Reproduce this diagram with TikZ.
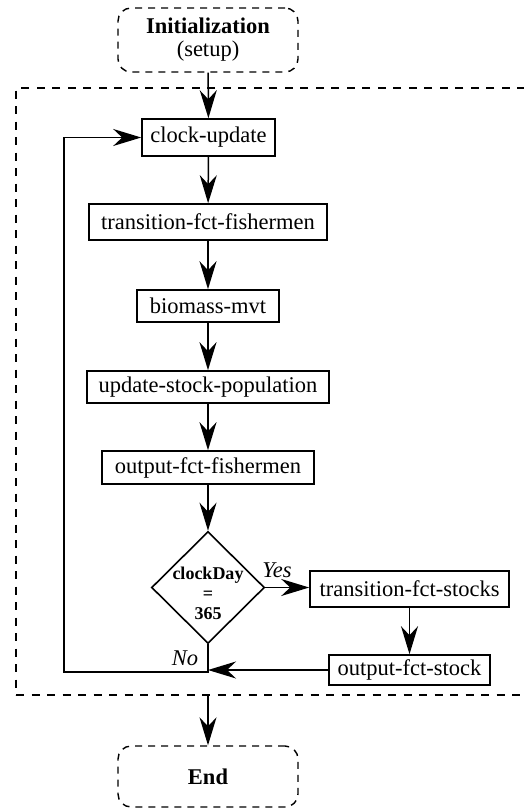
\documentclass[tikz,border=0pt]{standalone}
\usepackage{fontspec}
\setmainfont{Liberation Serif}
\usetikzlibrary{shapes.geometric,arrows.meta}
\begin{document}
\begin{tikzpicture}[x=1pt,y=-1pt,
  txt/.style={font=\fontsize{22.5}{24}\selectfont},
  proc/.style={draw, line width=1.6pt, inner sep=0pt, txt},
  term/.style={draw, dashed, dash pattern=on 7pt off 6pt, line width=1.4pt, rounded corners=13pt, inner sep=0pt, align=center, txt},
  arr/.style={line width=1.5pt, -{Stealth[length=28pt,width=17pt,inset=9pt]}},
  lbl/.style={font=\fontsize{22.5}{24}\selectfont\itshape, inner sep=0pt}]
\useasboundingbox (0,0) rectangle (524,808);
\node[draw, dashed, dash pattern=on 8pt off 7.5pt, line width=1.4pt, minimum width=540pt, minimum height=607pt, inner sep=0pt] (frame) at (286,391.5) {};
\node[term, minimum width=180pt, minimum height=64pt] (init) at (208,40) {\textbf{Initialization}\\[-1pt](setup)};
\node[proc, minimum width=133pt, minimum height=37pt] (clock) at (208.5,137.5) {clock-update};
\node[proc, minimum width=238pt, minimum height=36pt] (tfish) at (208,222) {transition-fct-fishermen};
\node[proc, minimum width=142pt, minimum height=32pt] (bio) at (208,306) {biomass-mvt};
\node[proc, minimum width=242pt, minimum height=32pt] (upd) at (208,387) {update-stock-population};
\node[proc, minimum width=212pt, minimum height=33pt] (ofish) at (208,467.5) {output-fct-fishermen};
\node[diamond, draw, line width=1.6pt, inner sep=0pt, minimum width=113pt, minimum height=112pt] (dec) at (208,587.5) {};
\node[align=center, inner sep=0pt, font=\fontsize{18}{20}\selectfont\bfseries] (dectxt) at (208,593) {clockDay\\=\\365};
\node[proc, minimum width=199pt, minimum height=36pt] (tstock) at (409.5,589) {transition-fct-stocks};
\node[proc, minimum width=161pt, minimum height=30pt] (ostock) at (409.5,670) {output-fct-stock};
\node[term, minimum width=180pt, minimum height=61pt] (endn) at (208,776.5) {\textbf{End}};
\node[lbl] (yes) at (277,570) {Yes};
\node[lbl] (no) at (185,658) {No};
\coordinate (nojoin) at (208,672);
\coordinate (loopc) at (64,672);
\draw[arr] (init) -- (clock);
\draw[arr] (clock) -- (tfish);
\draw[arr] (tfish) -- (bio);
\draw[arr] (bio) -- (upd);
\draw[arr] (upd) -- (ofish);
\draw[arr] (ofish) -- (dec.north);
\draw[arr] (dec.east) -- (tstock.west |- dec.east);
\draw[arr] (tstock) -- (ostock);
\draw[arr] (ostock.west) -- (ostock.west -| nojoin);
\draw[arr] (dec.south) -- (nojoin) -- (loopc) |- (clock.west);
\draw[arr] (frame.south -| endn.north) -- (endn.north);
\end{tikzpicture}
\end{document}
